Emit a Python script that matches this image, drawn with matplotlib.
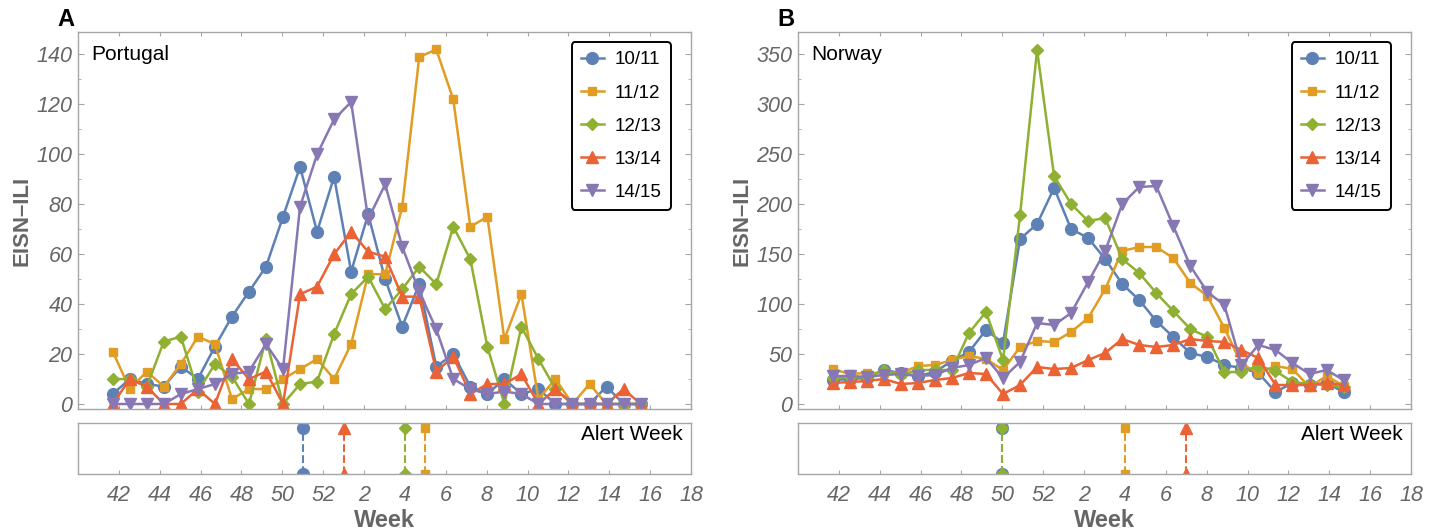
import matplotlib.pyplot as plt
import numpy as np

plt.rcParams["font.family"] = ["Liberation Sans", "DejaVu Sans"]

seasons = ["10/11", "11/12", "12/13", "13/14", "14/15"]
colors = ["#5E81B5", "#E19C24", "#8FB032", "#EB6235", "#8778B3"]
markers = ["o", "s", "D", "^", "v"]
marker_sizes = [8.5, 6, 6, 8, 8]

# EISN-ILI per sample, Portugal
pt_1011 = [4, 10, 8, 7, 15, 10, 23, 35, 45, 55, 75, 95, 69, 91, 53, 76, 50, 31, 48, 15,
           20, 7, 4, 10, 4, 6, 0, 0, 0, 7, 0, 0]
pt_1112 = [21, 6, 13, 7, 16, 27, 24, 2, 6, 6, 10, 14, 18, 10, 24, 52, 52, 79, 139, 142,
           122, 71, 75, 26, 44, 2, 10, 0, 8, 0, 0, 0]
pt_1213 = [10, 10, 7, 25, 27, 5, 16, 11, 0, 26, 0, 8, 9, 28, 44, 51, 38, 46, 55, 48,
           71, 58, 23, 0, 31, 18, 6, 0, 0, 0, 0, 0]
pt_1314 = [0, 10, 7, 0, 0, 6, 0, 18, 10, 13, 0, 44, 47, 60, 69, 61, 59, 43, 43, 13,
           19, 4, 8, 8, 12, 0, 6, 0, 0, 0, 6, 0]
pt_1415 = [0, 0, 0, 0, 4, 6, 8, 12, 13, 24, 14, 79, 100, 114, 121, 74, 88, 63, 45, 30,
           10, 6, 4, 5, 4, 0, 0, 0, 0, 0, 0, 0]

# EISN-ILI per sample, Norway
no_1011 = [24, 25, 26, 34, 31, 28, 32, 43, 52, 74, 61, 165, 180, 216, 175, 166, 145, 120,
           104, 83, 67, 51, 47, 39, 36, 31, 12, 21, 19, 21, 12]
no_1112 = [35, 30, 31, 31, 31, 38, 39, 44, 48, 45, 34, 57, 63, 62, 72, 86, 115, 153,
           157, 157, 146, 121, 108, 76, 40, 31, 38, 35, 17, 28, 18]
no_1213 = [26, 27, 27, 34, 29, 34, 34, 34, 71, 92, 44, 189, 354, 228, 200, 183, 186, 145,
           131, 111, 93, 75, 67, 32, 32, 38, 33, 22, 20, 19, 17]
no_1314 = [21, 22, 23, 25, 20, 21, 24, 26, 31, 30, 10, 19, 37, 35, 36, 44, 51, 65,
           59, 57, 59, 65, 63, 62, 54, 46, 19, 19, 19, 21, 19]
no_1415 = [28, 28, 27, 29, 30, 28, 29, 36, 39, 46, 26, 42, 81, 79, 91, 122, 153, 200,
           217, 218, 178, 138, 112, 99, 39, 59, 54, 41, 30, 34, 24]

# alert week on the running week axis (53 = week 1 of the new year), None = no alert
pt_alert = [51, 57, 56, 53, None]
no_alert = [50, 56, 50, 59, None]

tick_weeks = [42, 44, 46, 48, 50, 52, 54, 56, 58, 60, 62, 64, 66, 68, 70]
tick_labels = ["42", "44", "46", "48", "50", "52", "2", "4", "6", "8",
               "10", "12", "14", "16", "18"]

pt_yticks = [0, 20, 40, 60, 80, 100, 120, 140]
no_yticks = [0, 50, 100, 150, 200, 250, 300, 350]

# samples sit on the week axis starting at 41.7, 5/6 week apart
first_week = 41.7
week_step = 5 / 6

GREY = "#666666"
FRAME = "#a6a6a6"
W, H = 1439, 531


def style_frame(ax):
    for s in ax.spines.values():
        s.set_color(FRAME)
        s.set_linewidth(1.0)


def draw_panel(fig, left_px, series, alerts, yticks, ylim, minor_step, country, letter):
    width = 613 / W
    ax = fig.add_axes([left_px / W, 1 - 409 / H, width, 377 / H])
    for vals, c, m, ms, lab in zip(series, colors, markers, marker_sizes, seasons):
        x = first_week + week_step * np.arange(len(vals))
        ax.plot(x, vals, color=c, marker=m, markersize=ms, lw=1.8, label=lab)

    ax.set_xlim(40, 70)
    ax.set_ylim(*ylim)
    ax.set_xticks(tick_weeks)
    ax.set_yticks(yticks)
    ax.set_yticks(np.arange(0, ylim[1], minor_step), minor=True)
    ax.tick_params(axis="x", labelbottom=False, direction="in", length=3, color=FRAME,
                   top=True)
    ax.tick_params(axis="y", which="both", direction="in", color=FRAME, right=True)
    ax.tick_params(axis="y", which="major", length=4, pad=4)
    ax.tick_params(axis="y", which="minor", length=2)
    for t in ax.get_yticklabels():
        t.set_fontstyle("italic")
        t.set_color(GREY)
        t.set_fontsize(15.5)
    style_frame(ax)

    ax.set_ylabel("EISN\u2013ILI", fontsize=16, fontweight="bold", color=GREY)
    ax.yaxis.set_label_coords(-0.075, 0.5)
    ax.text(0.021, 0.965, country, transform=ax.transAxes, ha="left", va="top", fontsize=15)

    leg = ax.legend(loc="upper right", bbox_to_anchor=(1 - 20 / 613, 1 - 10 / 377),
                    borderaxespad=0, fontsize=13.5, handlelength=1.2, handletextpad=0.6,
                    labelspacing=0.85, borderpad=0.5, framealpha=1, fancybox=True)
    leg.get_frame().set_edgecolor("black")
    leg.get_frame().set_linewidth(1.4)

    fig.text((left_px - 12) / W, 1 - 20 / H, letter, ha="center", va="center",
             fontsize=17, fontweight="bold")

    # alert week strip
    ax2 = fig.add_axes([left_px / W, 1 - 474 / H, width, 51 / H])
    ax2.set_xlim(40, 70)
    ax2.set_ylim(0, 1)
    for wk, c, m, ms in zip(alerts, colors, markers, marker_sizes):
        if wk is None:
            continue
        ax2.plot([wk, wk], [0, 0.9], color=c, ls="--", lw=1.5)
        ax2.plot([wk, wk], [0, 0.9], color=c, ls="none", marker=m, markersize=ms)
    ax2.set_yticks([])
    ax2.set_xticks(tick_weeks)
    ax2.set_xticklabels(tick_labels, fontsize=15.5, fontstyle="italic", color=GREY)
    ax2.tick_params(axis="x", direction="in", length=3, color=FRAME, pad=8)
    style_frame(ax2)
    ax2.text(0.987, 0.97, "Alert Week", transform=ax2.transAxes, ha="right", va="top",
             fontsize=15)
    ax2.set_xlabel("Week", fontsize=17, fontweight="bold", color=GREY, labelpad=2)


fig = plt.figure(figsize=(W / 100, H / 100), dpi=100)

draw_panel(fig, 78, [pt_1011, pt_1112, pt_1213, pt_1314, pt_1415], pt_alert,
           pt_yticks, (-2, 149), 10, "Portugal", "A")
draw_panel(fig, 798, [no_1011, no_1112, no_1213, no_1314, no_1415], no_alert,
           no_yticks, (-5, 372), 25, "Norway", "B")

fig.savefig("out.png", dpi=100)
